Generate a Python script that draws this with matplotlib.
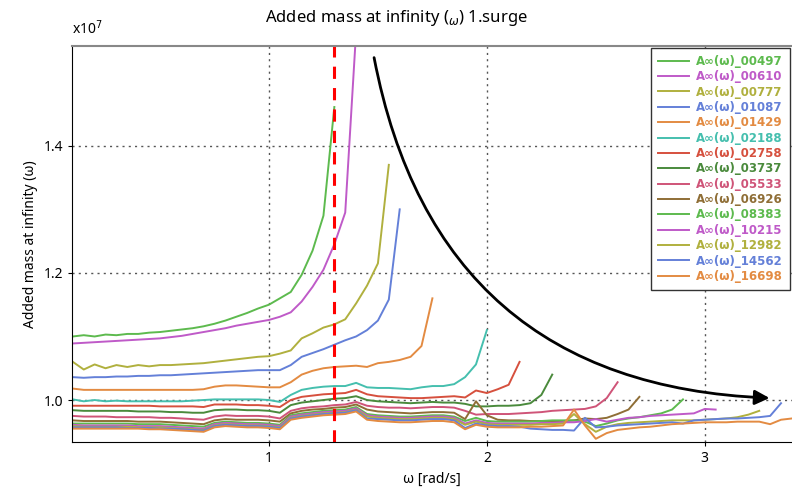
import numpy as np
import matplotlib.pyplot as plt

plt.rcParams['font.family'] = ['Noto Sans', 'DejaVu Sans']

# frequency grid [rad/s]
omega = [0.10, 0.15, 0.20, 0.25, 0.30, 0.35, 0.40, 0.45, 0.50, 0.55,
         0.60, 0.65, 0.70, 0.75, 0.80, 0.85, 0.90, 0.95, 1.00, 1.05,
         1.10, 1.15, 1.20, 1.25, 1.30, 1.35, 1.40, 1.45, 1.50, 1.55,
         1.60, 1.65, 1.70, 1.75, 1.80, 1.85, 1.90, 1.95, 2.00, 2.05,
         2.10, 2.15, 2.20, 2.25, 2.30, 2.35, 2.40, 2.45, 2.50, 2.55,
         2.60, 2.65, 2.70, 2.75, 2.80, 2.85, 2.90, 2.95, 3.00, 3.05,
         3.10, 3.15, 3.20, 3.25, 3.30, 3.35, 3.40]

# added mass values (x1e7), each series stops where it blows up
a_00497 = [1.100, 1.102, 1.100, 1.103, 1.102, 1.104, 1.104, 1.106, 1.107, 1.109,
           1.111, 1.113, 1.116, 1.120, 1.125, 1.131, 1.137, 1.144, 1.150, 1.160,
           1.170, 1.197, 1.235, 1.290, 1.461]
a_00610 = [1.089, 1.090, 1.091, 1.092, 1.093, 1.094, 1.095, 1.096, 1.097, 1.099,
           1.101, 1.104, 1.107, 1.110, 1.113, 1.117, 1.120, 1.123, 1.126, 1.131,
           1.138, 1.155, 1.178, 1.205, 1.245, 1.295, 1.580]
a_00777 = [1.060, 1.048, 1.056, 1.050, 1.055, 1.052, 1.055, 1.053, 1.055, 1.055,
           1.056, 1.057, 1.058, 1.060, 1.062, 1.064, 1.066, 1.068, 1.069, 1.073,
           1.078, 1.097, 1.105, 1.114, 1.119, 1.127, 1.152, 1.180, 1.215, 1.370]
a_01087 = [1.036, 1.035, 1.036, 1.036, 1.037, 1.037, 1.038, 1.038, 1.039, 1.039,
           1.040, 1.041, 1.042, 1.043, 1.044, 1.045, 1.046, 1.047, 1.047, 1.047,
           1.055, 1.068, 1.074, 1.080, 1.087, 1.094, 1.100, 1.110, 1.125, 1.158,
           1.300]
a_01429 = [1.018, 1.016, 1.016, 1.016, 1.016, 1.016, 1.016, 1.016, 1.016, 1.016,
           1.016, 1.016, 1.017, 1.021, 1.023, 1.023, 1.022, 1.021, 1.020, 1.020,
           1.028, 1.040, 1.046, 1.050, 1.052, 1.053, 1.054, 1.052, 1.058, 1.060,
           1.063, 1.068, 1.085, 1.160]
a_02188 = [1.001, 0.998, 1.000, 0.998, 0.999, 0.998, 0.998, 0.998, 0.998, 0.998,
           0.998, 0.999, 1.000, 1.001, 1.001, 1.001, 1.001, 1.001, 1.000, 0.997,
           1.008, 1.016, 1.019, 1.021, 1.022, 1.022, 1.027, 1.020, 1.019, 1.019,
           1.018, 1.017, 1.020, 1.022, 1.022, 1.025, 1.036, 1.056, 1.110]
a_02758 = [0.991, 0.991, 0.991, 0.991, 0.991, 0.991, 0.991, 0.991, 0.990, 0.990,
           0.990, 0.990, 0.989, 0.993, 0.993, 0.993, 0.992, 0.992, 0.991, 0.989,
           1.000, 1.005, 1.007, 1.009, 1.010, 1.011, 1.016, 1.009, 1.006, 1.005,
           1.004, 1.003, 1.003, 1.004, 1.005, 1.006, 1.004, 1.015, 1.011, 1.017,
           1.024, 1.060]
a_03737 = [0.984, 0.983, 0.983, 0.983, 0.983, 0.983, 0.982, 0.982, 0.982, 0.981,
           0.981, 0.980, 0.980, 0.984, 0.985, 0.985, 0.984, 0.984, 0.983, 0.980,
           0.992, 0.996, 0.998, 1.000, 1.002, 1.003, 1.006, 1.000, 0.998, 0.997,
           0.996, 0.995, 0.996, 0.997, 0.996, 0.996, 0.994, 0.990, 0.990, 0.991,
           0.991, 0.992, 0.995, 1.008, 1.040]
a_05533 = [0.975, 0.974, 0.974, 0.974, 0.973, 0.973, 0.973, 0.973, 0.972, 0.972,
           0.971, 0.970, 0.969, 0.974, 0.976, 0.975, 0.975, 0.975, 0.974, 0.971,
           0.983, 0.987, 0.989, 0.990, 0.992, 0.993, 0.997, 0.991, 0.989, 0.988,
           0.988, 0.987, 0.988, 0.989, 0.989, 0.988, 0.983, 0.977, 0.978, 0.978,
           0.978, 0.979, 0.980, 0.981, 0.983, 0.984, 0.985, 0.986, 0.990, 1.003,
           1.028]
a_06926 = [0.968, 0.967, 0.967, 0.967, 0.967, 0.967, 0.966, 0.966, 0.966, 0.965,
           0.964, 0.963, 0.962, 0.968, 0.970, 0.969, 0.969, 0.969, 0.968, 0.966,
           0.979, 0.983, 0.985, 0.986, 0.988, 0.989, 0.993, 0.985, 0.982, 0.981,
           0.980, 0.979, 0.980, 0.981, 0.981, 0.980, 0.970, 0.998, 0.976, 0.969,
           0.968, 0.968, 0.967, 0.967, 0.967, 0.967, 0.968, 0.971, 0.970, 0.972,
           0.978, 0.985, 1.005]
a_08383 = [0.963, 0.963, 0.963, 0.963, 0.963, 0.963, 0.962, 0.962, 0.962, 0.961,
           0.960, 0.959, 0.958, 0.964, 0.966, 0.965, 0.964, 0.964, 0.963, 0.961,
           0.976, 0.979, 0.981, 0.983, 0.984, 0.985, 0.989, 0.978, 0.976, 0.975,
           0.974, 0.974, 0.975, 0.976, 0.976, 0.974, 0.967, 0.972, 0.967, 0.966,
           0.966, 0.966, 0.966, 0.967, 0.968, 0.968, 0.968, 0.966, 0.959, 0.963,
           0.968, 0.971, 0.973, 0.976, 0.979, 0.985, 1.001]
a_10215 = [0.961, 0.960, 0.960, 0.960, 0.960, 0.960, 0.959, 0.959, 0.959, 0.958,
           0.957, 0.956, 0.955, 0.962, 0.964, 0.963, 0.962, 0.962, 0.961, 0.959,
           0.974, 0.977, 0.979, 0.981, 0.982, 0.983, 0.987, 0.976, 0.974, 0.973,
           0.972, 0.972, 0.973, 0.974, 0.974, 0.972, 0.963, 0.968, 0.964, 0.963,
           0.963, 0.963, 0.963, 0.964, 0.964, 0.965, 0.965, 0.967, 0.970, 0.966,
           0.969, 0.972, 0.973, 0.975, 0.976, 0.977, 0.978, 0.979, 0.986, 0.985]
a_12982 = [0.959, 0.958, 0.958, 0.958, 0.958, 0.958, 0.957, 0.957, 0.957, 0.956,
           0.955, 0.954, 0.953, 0.960, 0.962, 0.961, 0.960, 0.960, 0.959, 0.957,
           0.972, 0.975, 0.977, 0.979, 0.980, 0.981, 0.985, 0.974, 0.972, 0.971,
           0.970, 0.970, 0.971, 0.972, 0.972, 0.970, 0.961, 0.966, 0.962, 0.961,
           0.961, 0.961, 0.961, 0.962, 0.962, 0.963, 0.978, 0.962, 0.950, 0.958,
           0.962, 0.964, 0.965, 0.966, 0.967, 0.968, 0.968, 0.968, 0.969, 0.970,
           0.971, 0.973, 0.977, 0.983]
a_14562 = [0.957, 0.957, 0.957, 0.957, 0.957, 0.956, 0.956, 0.956, 0.955, 0.955,
           0.954, 0.953, 0.952, 0.959, 0.961, 0.960, 0.959, 0.959, 0.958, 0.956,
           0.971, 0.974, 0.976, 0.978, 0.979, 0.980, 0.984, 0.971, 0.970, 0.969,
           0.968, 0.968, 0.969, 0.970, 0.970, 0.968, 0.956, 0.963, 0.960, 0.959,
           0.959, 0.958, 0.955, 0.954, 0.953, 0.953, 0.952, 0.972, 0.957, 0.958,
           0.960, 0.961, 0.962, 0.963, 0.964, 0.965, 0.963, 0.968, 0.969, 0.970,
           0.971, 0.971, 0.972, 0.973, 0.975, 0.995]
a_16698 = [0.955, 0.955, 0.955, 0.955, 0.955, 0.955, 0.955, 0.954, 0.954, 0.953,
           0.952, 0.951, 0.950, 0.957, 0.959, 0.958, 0.957, 0.957, 0.956, 0.954,
           0.969, 0.972, 0.974, 0.976, 0.977, 0.978, 0.982, 0.969, 0.967, 0.966,
           0.965, 0.965, 0.966, 0.967, 0.967, 0.965, 0.954, 0.961, 0.958, 0.957,
           0.957, 0.957, 0.958, 0.958, 0.959, 0.960, 0.985, 0.960, 0.939, 0.948,
           0.953, 0.955, 0.957, 0.958, 0.960, 0.962, 0.963, 0.964, 0.965, 0.965,
           0.965, 0.966, 0.966, 0.966, 0.962, 0.969, 0.971]

series = [a_00497, a_00610, a_00777, a_01087, a_01429, a_02188, a_02758, a_03737,
          a_05533, a_06926, a_08383, a_10215, a_12982, a_14562, a_16698]
labels = ['A∞(ω)_00497', 'A∞(ω)_00610', 'A∞(ω)_00777', 'A∞(ω)_01087',
          'A∞(ω)_01429', 'A∞(ω)_02188', 'A∞(ω)_02758', 'A∞(ω)_03737',
          'A∞(ω)_05533', 'A∞(ω)_06926', 'A∞(ω)_08383', 'A∞(ω)_10215',
          'A∞(ω)_12982', 'A∞(ω)_14562', 'A∞(ω)_16698']
colors = ['#5dba4e', '#bf5ac8', '#b0b03e', '#6480d8', '#e38b42',
          '#45bfae', '#d6503e', '#4a8a3c', '#cf5478', '#8f6e36',
          '#5dba4e', '#bf5ac8', '#b0b03e', '#6480d8', '#e38b42']
omega_mark = 1.3

fig = plt.figure(figsize=(7.92, 4.94), dpi=100)
ax = fig.add_axes([0.0909, 0.1053, 0.909, 0.8016])

for vals, lab, col in zip(series, labels, colors):
    ax.plot(omega[:len(vals)], vals, color=col, lw=1.4, label=lab)

ax.axvline(omega_mark, color='red', ls='--', lw=2.2, dashes=(4, 3))

# curved arrow
ax.annotate('', xy=(3.31, 1.003), xytext=(1.48, 1.543),
            arrowprops=dict(arrowstyle='-|>', color='black', lw=2,
                            mutation_scale=22,
                            connectionstyle='arc3,rad=0.4'))

ax.set_xlim(0.096, 3.4)
ax.set_ylim(0.934, 1.557)
ax.set_xticks([1, 2, 3])
ax.set_xticklabels(['1', '2', '3'])
ax.set_yticks([1.0, 1.2, 1.4])
ax.set_yticklabels(['1.0', '1.2', '1.4'])
ax.grid(True, ls=(0, (1.5, 3)), color='#555555', lw=1)
ax.tick_params(labelsize=10, length=3, color='black')

ax.spines['right'].set_visible(False)
ax.spines['top'].set_color('#888888')
ax.spines['top'].set_linewidth(1.5)

ax.text(0.0, 1.02, 'x10$^7$', transform=ax.transAxes, fontsize=10,
        ha='left', va='bottom')
fig.suptitle('Added mass at infinity ($_\\omega$) 1.surge', fontsize=12,
             x=0.5, y=0.963, va='center')
ax.set_xlabel('ω [rad/s]', fontsize=10)
ax.set_ylabel('Added mass at infinity (ω)', fontsize=10)

leg = ax.legend(loc='upper right', labelcolor='linecolor',
                prop={'family': 'DejaVu Sans', 'weight': 'bold', 'size': 8.5},
                fancybox=False, framealpha=1, edgecolor='#333333',
                labelspacing=0.2, borderaxespad=0.15, handlelength=2.6,
                handletextpad=0.6, borderpad=0.6)
leg.get_frame().set_linewidth(1)

fig.savefig('out.png', dpi=100)
